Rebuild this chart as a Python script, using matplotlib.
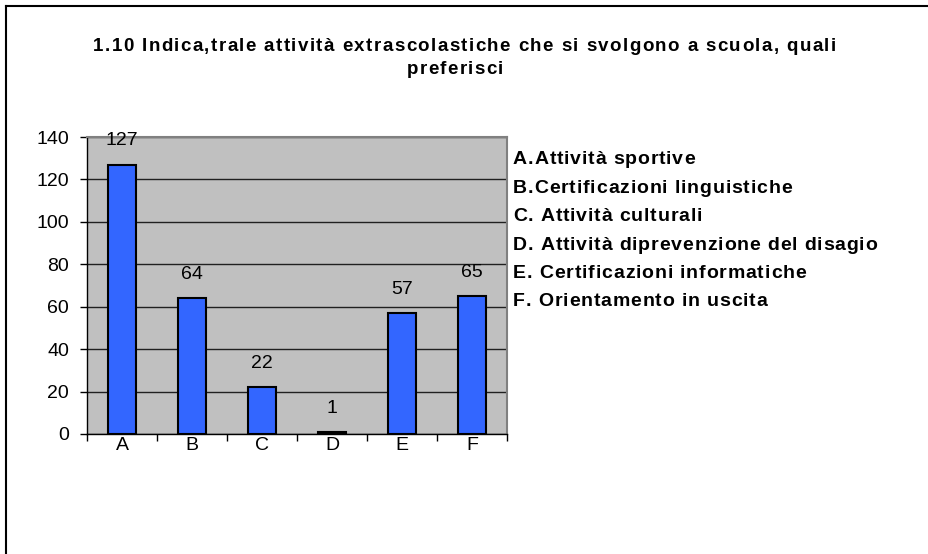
import matplotlib.pyplot as plt
from matplotlib.lines import Line2D
from matplotlib.font_manager import FontProperties

categories = ['A', 'B', 'C', 'D', 'E', 'F']
values = [127, 64, 22, 1, 57, 65]
legend_items = ['A.Attività sportive',
                'B.Certificazioni linguistiche',
                'C. Attività culturali',
                'D. Attività diprevenzione del disagio',
                'E. Certificazioni informatiche',
                'F. Orientamento in uscita']
title_lines = ['1.10 Indica,trale attività extrascolastiche che si svolgono a scuola, quali',
               'preferisci']
yticks = [0, 20, 40, 60, 80, 100, 120, 140]

plt.rcParams['font.family'] = ['Liberation Sans', 'DejaVu Sans']

W, H = 929, 554
fig = plt.figure(figsize=(W / 100, H / 100), dpi=100)
ax = fig.add_axes([87 / W, 1 - 434 / H, 420 / W, 297 / H])
ax.set_facecolor('#C0C0C0')

x = list(range(len(categories)))
ax.bar(x, values, width=0.4, color='#3366FF', edgecolor='black', linewidth=1.5, zorder=3)
for i, v in enumerate(values):
    ax.annotate(str(v), (x[i], v), xytext=(0, 11), textcoords='offset points',
                ha='center', va='bottom', fontsize=14)

ax.set_xlim(-0.5, len(categories) - 0.5)
ax.set_ylim(0, 140)
ax.set_yticks(yticks)
ax.tick_params(axis='y', labelsize=14, length=5, width=1, direction='out', pad=8)
ax.set_xticks(x)
ax.set_xticklabels(categories)
ax.set_xticks([i - 0.5 for i in range(len(categories) + 1)], minor=True)
ax.tick_params(axis='x', which='major', length=0, labelsize=14, pad=2)
ax.tick_params(axis='x', which='minor', length=5, width=1, direction='out')
ax.yaxis.grid(True, color='#202020', linewidth=1)
ax.set_axisbelow(True)
for s in ['left', 'bottom']:
    ax.spines[s].set_color('black')
    ax.spines[s].set_linewidth(1)
for s in ['top', 'right']:
    ax.spines[s].set_color('#808080')
    ax.spines[s].set_linewidth(1.5)

# the original text is letter-spaced, so place it char by char
renderer = fig.canvas.get_renderer()


def char_widths(s, fp):
    def w(t):
        return renderer.get_text_width_height_descent(t, fp, ismath=False)[0]
    out = []
    for c in s:
        if c == ' ':
            out.append(w('a a') - w('aa'))
        else:
            out.append(w('|' + c + '|') - w('||'))
    return out


def spaced_text(s, x0, baseline, fp, track):
    x_px = x0
    for c, cw in zip(s, char_widths(s, fp)):
        fig.text(x_px / W, 1 - baseline / H, c, fontproperties=fp, ha='left', va='baseline')
        x_px += cw + track


title_fp = FontProperties(family='Liberation Sans', weight='bold', size=13.5)
cw = char_widths(title_lines[0], title_fp)
title_track = (836 - 93 - sum(cw)) / (len(title_lines[0]) - 1)
spaced_text(title_lines[0], 93, 51, title_fp, title_track)
cw2 = char_widths(title_lines[1], title_fp)
w2 = sum(cw2) + title_track * (len(title_lines[1]) - 1)
spaced_text(title_lines[1], 455 - w2 / 2, 73.5, title_fp, title_track)

leg_fp = FontProperties(family='Liberation Sans', weight='bold', size=14)
longest = legend_items[3]
leg_track = (877 - 513 - sum(char_widths(longest, leg_fp))) / (len(longest) - 1)
for i, t in enumerate(legend_items):
    spaced_text(t, 513, 164.5 + i * 28.4, leg_fp, leg_track)

# chart border (only top and left visible)
fig.add_artist(Line2D([6 / W, 6 / W], [0, 1 - 6 / H], color='black', linewidth=1.5))
fig.add_artist(Line2D([6 / W, 1], [1 - 6 / H, 1 - 6 / H], color='black', linewidth=1.5))

fig.savefig('out.png', dpi=100)
